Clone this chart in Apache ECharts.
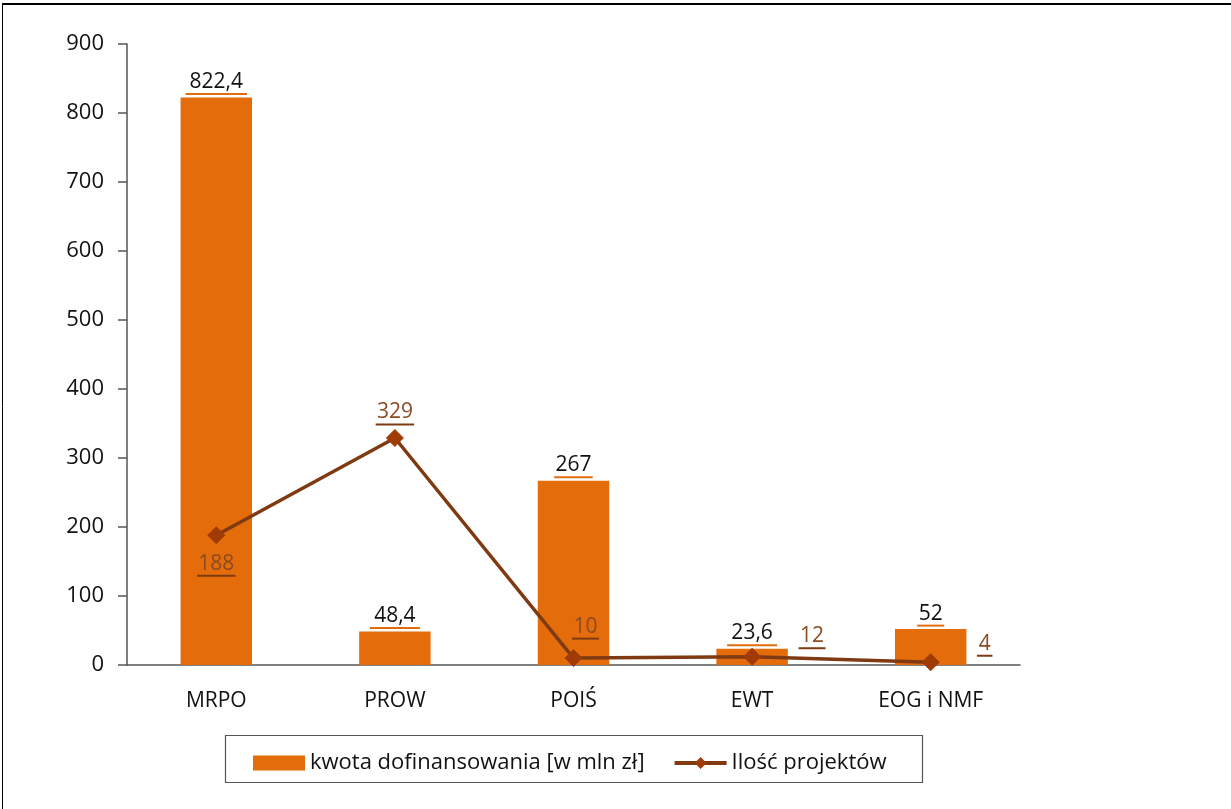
<!DOCTYPE html>
<html><head><meta charset="utf-8">
<script src="https://cdn.jsdelivr.net/npm/echarts@6/dist/echarts.min.js"></script>
<style>html,body{margin:0;padding:0;background:#fff}#c{width:1231px;height:809px}</style>
</head><body><div id="c"></div>
<script>
const categories = ['MRPO', 'PROW', 'POIŚ', 'EWT', 'EOG i NMF'];
const kwota = [822.4, 48.4, 267, 23.6, 52];
const projekty = [188, 329, 10, 12, 4];
const yTicks = {min: 0, max: 900, interval: 100};
const seriesNames = ['kwota dofinansowania [w mln zł]', 'Ilość projektów'];

const FONT = 'Open Sans';
const ORANGE = '#E46C0A';
const BROWN = '#7F3A12';
const MARK = '#A03A06';

function fmt(v){ return String(v).replace('.', ','); }
function ul(color, txtColor){
  const r = {t: {fontFamily: FONT, fontSize: 21, color: txtColor, align: 'center', lineHeight: 21}};
  for (let n = 1; n <= 6; n++) {
    r['u' + n] = {height: 2, width: n * 11.5 + 4, backgroundColor: color, align: 'center', lineHeight: 3};
  }
  return r;
}
function ulFormatter(p){ const s = fmt(p.value); return '{t|' + s + '}\n{u' + s.length + '|}'; }

const lineLabelPos = [
  {position: 'bottom', offset: [0, 4]},
  {position: 'top', offset: [0, 2]},
  {position: 'top', offset: [12, -4]},
  {position: 'top', offset: [60, 7]},
  {position: 'top', offset: [54, 9]}
];

const chart = echarts.init(document.getElementById('c'), null, {renderer: 'canvas'});
chart.setOption({
  animation: false,
  textStyle: {fontFamily: FONT},
  graphic: [
    {type: 'line', shape: {x1: 2, y1: 4, x2: 1231, y2: 4}, style: {stroke: '#000', lineWidth: 2}},
    {type: 'line', shape: {x1: 2.5, y1: 4, x2: 2.5, y2: 809}, style: {stroke: '#000', lineWidth: 1}},
    {type: 'rect', shape: {x: 225.5, y: 735.5, width: 697, height: 47}, style: {fill: 'none', stroke: '#555', lineWidth: 1.2}}
  ],
  grid: {left: 127, right: 211, top: 44, bottom: 144, containLabel: false},
  legend: {
    data: [{name: seriesNames[0], icon: 'rect'}, {name: seriesNames[1], lineStyle: {width: 4}}],
    left: 248, top: 747,
    itemGap: 28,
    itemWidth: 52, itemHeight: 15,
    textStyle: {fontFamily: FONT, fontSize: 22, color: '#111', padding: [0, 0, 0, 0]}
  },
  xAxis: {
    type: 'category',
    data: categories,
    axisLine: {lineStyle: {color: '#555', width: 1.5}},
    axisTick: {length: 10, lineStyle: {color: '#555', width: 1.5}},
    axisLabel: {fontFamily: FONT, fontSize: 21, color: '#111', margin: 26}
  },
  yAxis: {
    type: 'value',
    min: yTicks.min, max: yTicks.max, interval: yTicks.interval,
    axisLine: {show: true, lineStyle: {color: '#555', width: 1.5}},
    axisTick: {show: true, length: 9, lineStyle: {color: '#555', width: 1.5}},
    splitLine: {show: false},
    axisLabel: {fontFamily: FONT, fontSize: 22, color: '#111', margin: 23}
  },
  series: [
    {
      name: seriesNames[0],
      type: 'bar',
      data: kwota,
      barWidth: '40%',
      itemStyle: {color: ORANGE},
      label: {show: true, position: 'top', distance: 2, formatter: ulFormatter, rich: ul(ORANGE, '#111')}
    },
    {
      name: seriesNames[1],
      type: 'line',
      data: projekty.map((v, i) => ({value: v, label: lineLabelPos[i]})),
      symbol: 'diamond',
      symbolSize: 17,
      lineStyle: {color: BROWN, width: 3.5},
      itemStyle: {color: MARK, borderColor: MARK},
      label: {show: true, formatter: ulFormatter, rich: ul(BROWN, '#8B4A22')},
      z: 5
    }
  ]
});
</script></body></html>
